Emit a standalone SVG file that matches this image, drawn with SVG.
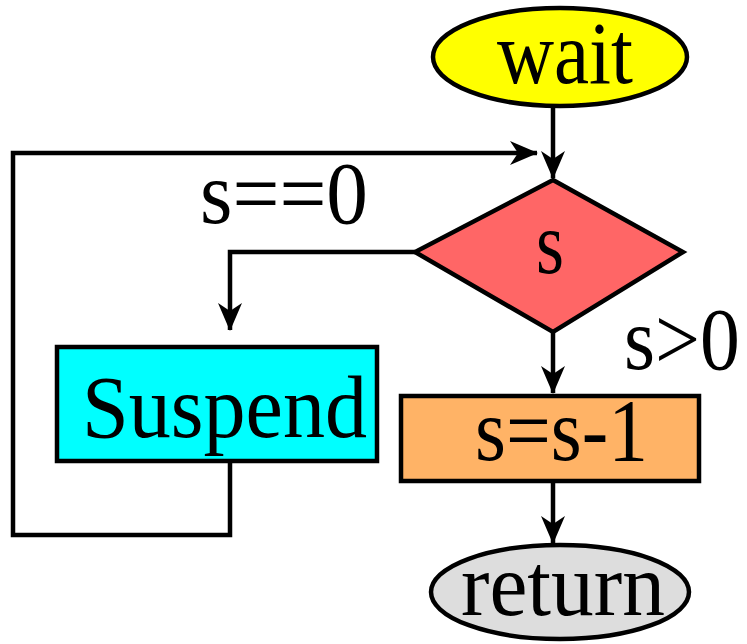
<svg xmlns="http://www.w3.org/2000/svg" width="747" height="644" viewBox="0 0 747 644">
<defs>
<style>
.shape{stroke:#000;stroke-width:4.5}
.line{fill:none;stroke:#000;stroke-width:4.5}
.lbl{font-family:"Liberation Serif","Times New Roman",serif;font-size:88px;fill:#000}
</style>
<marker id="ah" markerUnits="userSpaceOnUse" viewBox="0 0 28 24" refX="27" refY="12" markerWidth="28" markerHeight="24" orient="auto">
<path d="M0,0 L28,12 L0,24 L8,12 z" fill="#000"/>
</marker>
</defs>
<rect width="747" height="644" fill="#fff"/>
<g id="connectors">
<path class="line" d="M553,106 L553,178" marker-end="url(#ah)"/>
<path class="line" d="M230,462 L230,535 L13,535 L13,153 L537,153" marker-end="url(#ah)"/>
<path class="line" d="M415,252 L230,252 L230,330" marker-end="url(#ah)"/>
<path class="line" d="M553,332 L553,393" marker-end="url(#ah)"/>
<path class="line" d="M553,482 L553,543" marker-end="url(#ah)"/>
</g>
<g id="wait">
<ellipse class="shape" cx="560" cy="57" rx="127" ry="49" fill="#FFFF00"/>
<text class="lbl" x="497" y="83" textLength="136" lengthAdjust="spacingAndGlyphs">wait</text>
</g>
<g id="decision">
<polygon class="shape" points="553,180 683,252 553,332 415,252" fill="#FF6666"/>
<text class="lbl" x="536" y="273" textLength="28" lengthAdjust="spacingAndGlyphs">s</text>
</g>
<g id="suspend">
<rect class="shape" x="57" y="347" width="320" height="114" fill="#00FFFF"/>
<text class="lbl" x="82" y="437" textLength="285" lengthAdjust="spacingAndGlyphs">Suspend</text>
</g>
<g id="decrement">
<rect class="shape" x="401" y="396" width="298" height="85" fill="#FFB366"/>
<text class="lbl" x="475" y="460" textLength="173" lengthAdjust="spacingAndGlyphs">s=s-1</text>
</g>
<g id="return">
<ellipse class="shape" cx="560" cy="592" rx="129" ry="47" fill="#DDDDDD"/>
<text class="lbl" x="461" y="615" textLength="204" lengthAdjust="spacingAndGlyphs">return</text>
</g>
<g id="labels">
<text class="lbl" x="200" y="223" textLength="168" lengthAdjust="spacingAndGlyphs">s==0</text>
<text class="lbl" transform="translate(624,369) scale(0.906,1)" x="0" y="0">s&gt;0</text>
</g>
</svg>
